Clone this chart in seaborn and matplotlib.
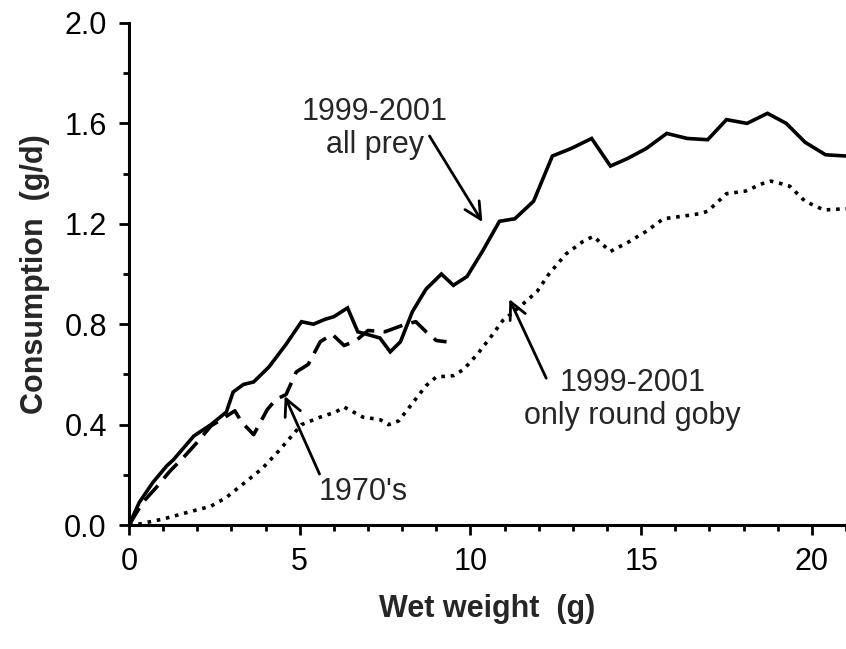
import matplotlib
matplotlib.use("Agg")
import matplotlib.pyplot as plt
import seaborn as sns
import pandas as pd
from matplotlib.ticker import MultipleLocator

# Daily consumption vs. wet weight
all_prey_w = [0, 0.3, 0.7, 1.1, 1.3, 1.9, 2.4, 2.85, 3.05, 3.35, 3.65, 4.1, 4.6, 5.05,
              5.4, 5.75, 6.0, 6.4, 6.7, 7.35, 7.65, 7.95, 8.3, 8.7, 9.15, 9.5, 9.9,
              10.35, 10.85, 11.3, 11.85, 12.4, 12.95, 13.55, 14.1, 14.6, 15.15, 15.75,
              16.35, 16.95, 17.5, 18.1, 18.7, 19.25, 19.8, 20.4, 21.0]
all_prey_c = [0, 0.09, 0.17, 0.235, 0.26, 0.355, 0.40, 0.45, 0.53, 0.56, 0.57, 0.63,
              0.72, 0.81, 0.80, 0.82, 0.83, 0.865, 0.77, 0.745, 0.69, 0.73, 0.85, 0.94,
              1.00, 0.955, 0.99, 1.09, 1.21, 1.22, 1.29, 1.47, 1.50, 1.54, 1.43, 1.46,
              1.50, 1.56, 1.54, 1.535, 1.615, 1.60, 1.64, 1.60, 1.525, 1.475, 1.47]

old_w = [0, 0.4, 0.8, 1.2, 1.6, 2.0, 2.4, 2.7, 3.1, 3.3, 3.65, 3.85, 4.05, 4.3, 4.6,
         4.9, 5.25, 5.6, 5.95, 6.3, 6.65, 7.0, 7.5, 8.1, 8.4, 8.7, 9.0, 9.3]
old_c = [0, 0.09, 0.15, 0.215, 0.27, 0.33, 0.395, 0.42, 0.455, 0.41, 0.36, 0.41, 0.46,
         0.50, 0.52, 0.61, 0.64, 0.73, 0.76, 0.715, 0.735, 0.775, 0.77, 0.80, 0.81,
         0.77, 0.735, 0.73]

goby_w = [0, 0.3, 1.0, 1.7, 2.4, 2.85, 3.4, 3.9, 4.35, 4.8, 5.05, 5.6, 6.05, 6.3, 6.85,
          7.35, 7.6, 7.9, 8.3, 8.7, 9.0, 9.5, 9.8, 10.2, 10.6, 10.95, 11.45, 11.95,
          12.3, 12.8, 13.3, 13.6, 14.1, 14.6, 15.15, 15.65, 16.2, 16.7, 16.95, 17.5,
          18.05, 18.55, 18.8, 19.1, 19.35, 19.8, 20.35, 21.0]
goby_c = [0, 0.004, 0.024, 0.05, 0.075, 0.11, 0.17, 0.225, 0.29, 0.36, 0.40, 0.43,
          0.45, 0.47, 0.43, 0.42, 0.40, 0.415, 0.485, 0.555, 0.59, 0.595, 0.62, 0.68,
          0.75, 0.815, 0.87, 0.93, 1.00, 1.08, 1.13, 1.15, 1.09, 1.125, 1.17, 1.22,
          1.23, 1.24, 1.25, 1.32, 1.33, 1.36, 1.37, 1.36, 1.35, 1.29, 1.255, 1.26]

x_ticks = [0, 5, 10, 15, 20]
y_ticks = [0.0, 0.4, 0.8, 1.2, 1.6, 2.0]

sns.set_style("ticks")
plt.rcParams["font.family"] = ["Liberation Sans", "DejaVu Sans"]

fig = plt.figure(figsize=(8.46, 6.49), dpi=100)
ax = fig.add_axes([0.1525, 0.191, 0.8475, 0.7736])

lw = 2.6
sns.lineplot(data=pd.DataFrame({"w": all_prey_w, "c": all_prey_c}), x="w", y="c",
             ax=ax, color="black", linewidth=lw, solid_joinstyle="miter")
sns.lineplot(data=pd.DataFrame({"w": old_w, "c": old_c}), x="w", y="c",
             ax=ax, color="black", linewidth=lw, linestyle=(0, (5.5, 2.6)),
             dash_capstyle="butt")
sns.lineplot(data=pd.DataFrame({"w": goby_w, "c": goby_c}), x="w", y="c",
             ax=ax, color="black", linewidth=lw, linestyle=(0, (1, 1.6)),
             dash_capstyle="butt")

ax.set_xlim(0, 21)
ax.set_ylim(0, 2.0)
ax.set_xticks(x_ticks)
ax.set_xticklabels([str(v) for v in x_ticks])
ax.set_yticks(y_ticks)
ax.set_yticklabels([f"{v:.1f}" for v in y_ticks])
ax.xaxis.set_minor_locator(MultipleLocator(1))
ax.yaxis.set_minor_locator(MultipleLocator(0.2))

sns.despine(ax=ax)
for s in ("left", "bottom"):
    ax.spines[s].set_linewidth(2.2)
    ax.spines[s].set_color("black")

ax.tick_params(axis="both", which="major", direction="out", length=7, width=2.0,
               labelsize=22, color="black", labelcolor="black", pad=9)
ax.tick_params(axis="both", which="minor", direction="out", length=4.5, width=2.0,
               color="black")

ax.set_xlabel("Wet weight  (g)", fontsize=22, fontweight="bold", labelpad=12)
ax.set_ylabel("Consumption  (g/d)", fontsize=22, fontweight="bold", labelpad=10)

arrow = dict(arrowstyle="->", color="black", lw=2.0, mutation_scale=30,
             shrinkA=0, shrinkB=0)

ax.text(7.2, 1.58, "1999-2001\nall prey", ha="center", va="center", fontsize=22,
        linespacing=1.15)
ax.annotate("", xy=(10.35, 1.207), xytext=(8.8, 1.55), arrowprops=arrow)

ax.text(14.75, 0.50, "1999-2001\nonly round goby", ha="center", va="center",
        fontsize=22, linespacing=1.15)
ax.annotate("", xy=(11.14, 0.90), xytext=(12.22, 0.585), arrowprops=arrow)

ax.text(6.87, 0.13, "1970's", ha="center", va="center", fontsize=22)
ax.annotate("", xy=(4.56, 0.514), xytext=(5.58, 0.203), arrowprops=arrow)

fig.savefig("out.png", dpi=100)
